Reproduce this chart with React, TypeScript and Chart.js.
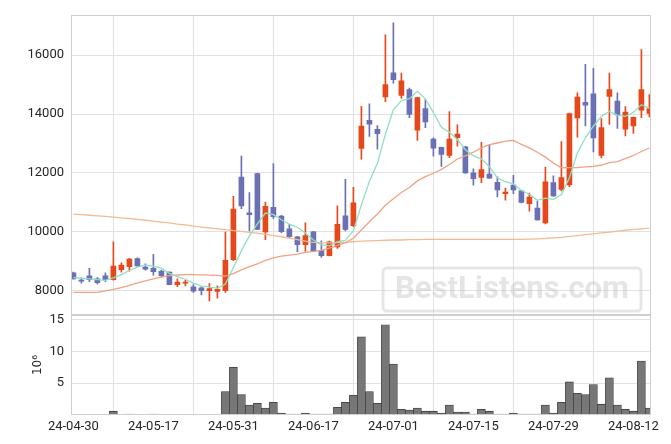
import React, { useEffect, useRef } from 'react';
import { Chart, registerables } from 'chart.js';

Chart.register(...registerables);

const dates = [
  '24-04-30', '24-05-02', '24-05-03', '24-05-07', '24-05-08', '24-05-09', '24-05-10', '24-05-13', '24-05-14', '24-05-16',
  '24-05-17', '24-05-20', '24-05-21', '24-05-22', '24-05-23', '24-05-24', '24-05-27', '24-05-28', '24-05-29', '24-05-30',
  '24-05-31', '24-06-03', '24-06-04', '24-06-05', '24-06-07', '24-06-10', '24-06-11', '24-06-12', '24-06-13', '24-06-14',
  '24-06-17', '24-06-18', '24-06-19', '24-06-20', '24-06-21', '24-06-24', '24-06-25', '24-06-26', '24-06-27', '24-06-28',
  '24-07-01', '24-07-02', '24-07-03', '24-07-04', '24-07-05', '24-07-08', '24-07-09', '24-07-10', '24-07-11', '24-07-12',
  '24-07-15', '24-07-16', '24-07-17', '24-07-18', '24-07-19', '24-07-22', '24-07-23', '24-07-24', '24-07-25', '24-07-26',
  '24-07-29', '24-07-30', '24-07-31', '24-08-01', '24-08-02', '24-08-05', '24-08-06', '24-08-07', '24-08-08', '24-08-09',
  '24-08-12', '24-08-13', '24-08-14',
];

const opens = [
  8600, 8340, 8500, 8400, 8500, 8370, 8710, 8810, 9090, 8800,
  8760, 8660, 8630, 8200, 8250, 8130, 8090, 8000, 7970, 8000,
  9050, 11860, 10640, 11980, 9990, 10830, 10530, 10100, 9830, 9560,
  10000, 9370, 9190, 9480, 10540, 10210, 12830, 13790, 13480, 14580,
  15400, 14630, 14830, 13450, 14190, 13150, 12870, 12590, 13200, 12890,
  12000, 11850, 11960, 11680, 11290, 11590, 11390, 10950, 10800, 10300,
  11670, 11440, 11590, 13870, 14400, 14690, 12590, 14600, 14440, 13490,
  13600, 14130, 14020,
];

const highs = [
  8630, 8430, 8760, 8440, 8600, 9660, 8940, 9100, 9110, 8910,
  9230, 8700, 8640, 8400, 8350, 8200, 8120, 8240, 8160, 9990,
  11200, 12570, 11330, 11990, 11010, 12320, 10560, 10250, 9840, 10300,
  10010, 9690, 9680, 10880, 11780, 11510, 14260, 14350, 13610, 16690,
  17100, 15390, 14880, 14570, 14490, 13190, 12880, 14080, 13630, 12900,
  12140, 13040, 12950, 11870, 11480, 11920, 11400, 11310, 11030, 12200,
  11900, 13060, 14030, 14720, 15690, 15550, 13850, 15390, 14720, 14250,
  13900, 16190, 14660,
];

const lows = [
  8390, 8250, 8300, 8230, 8300, 8350, 8630, 8660, 8820, 8690,
  8520, 8450, 8190, 8130, 8160, 7940, 7850, 7650, 7740, 7940,
  9020, 10780, 10030, 10070, 9730, 10450, 9970, 9790, 9320, 9330,
  9320, 9130, 9180, 9430, 10030, 10170, 12470, 13240, 12810, 14420,
  15050, 14530, 13880, 13100, 13540, 12570, 12220, 12520, 12910, 11980,
  11580, 11670, 11810, 11180, 11070, 11290, 10980, 10700, 10390, 10270,
  11200, 11390, 11530, 13210, 13600, 12710, 12510, 13650, 13510, 13260,
  13340, 13880, 13900,
];

const closes = [
  8400, 8320, 8370, 8270, 8370, 8830, 8870, 9070, 8840, 8730,
  8640, 8510, 8200, 8290, 8290, 7980, 8000, 8070, 8040, 9030,
  10770, 10880, 10580, 10080, 10860, 10510, 10000, 9830, 9560, 9870,
  9330, 9190, 9660, 10250, 10080, 10980, 13590, 13660, 13330, 15000,
  15170, 15130, 13990, 14560, 13730, 12840, 12630, 13150, 13320, 12000,
  11800, 12110, 11820, 11420, 11350, 11420, 11000, 11180, 10400, 11700,
  11220, 11840, 14020, 14580, 14300, 13190, 13540, 14830, 13970, 14070,
  13890, 14830, 14190,
];

// volume in millions of shares
const volumes = [
  0.02, 0.02, 0.02, 0.02, 0.02, 0.6, 0.02, 0.15, 0.02, 0.02,
  0.15, 0.02, 0.02, 0.02, 0.02, 0.02, 0.02, 0.02, 0.02, 3.7,
  7.5, 3.2, 1.55, 1.85, 1.1, 2.0, 0.3, 0.15, 0.15, 0.3,
  0.15, 0.15, 0.15, 1.2, 2.0, 3.1, 12.3, 3.7, 1.85, 14.2,
  8.0, 0.9, 0.77, 1.1, 0.6, 0.6, 0.3, 1.55, 0.46, 0.46,
  0.15, 0.9, 0.6, 0.15, 0.15, 0.3, 0.15, 0.15, 0.15, 1.55,
  0.3, 2.0, 5.2, 3.4, 3.2, 4.8, 1.7, 5.85, 1.55, 0.9,
  0.6, 8.5, 1.1,
];

const ma5 = [
  8440, 8420, 8400, 8370, 8346, 8432, 8542, 8682, 8796, 8868,
  8830, 8758, 8584, 8474, 8386, 8254, 8152, 8126, 8076, 8224,
  8782, 9358, 9860, 10268, 10634, 10582, 10406, 10256, 10152, 9954,
  9718, 9556, 9522, 9660, 9702, 10032, 10912, 11712, 12328, 13312,
  14150, 14458, 14524, 14770, 14516, 14050, 13550, 13382, 13134, 12788,
  12580, 12476, 12210, 11830, 11700, 11624, 11402, 11274, 11070, 11140,
  11100, 11268, 11836, 12672, 13192, 13586, 13926, 14088, 13966, 13920,
  14060, 14318, 14190,
];

const ma20 = [
  7936, 7936, 7936, 7940, 7990, 8040, 8100, 8180, 8260, 8330,
  8400, 8460, 8510, 8530, 8540, 8540, 8535, 8525, 8515, 8490,
  8575, 8702, 8813, 8904, 9028, 9112, 9168, 9206, 9242, 9300,
  9334, 9368, 9441, 9539, 9628, 9778, 10058, 10338, 10602, 10900,
  11120, 11333, 11504, 11728, 11871, 11988, 12119, 12285, 12473, 12580,
  12703, 12849, 12957, 13016, 13079, 13101, 12972, 12848, 12701, 12536,
  12338, 12174, 12176, 12176, 12205, 12222, 12268, 12352, 12384, 12488,
  12592, 12728, 12847,
];

const maLong = [
  10600, 10580, 10560, 10540, 10520, 10500, 10470, 10450, 10420, 10390,
  10360, 10330, 10300, 10260, 10230, 10190, 10160, 10130, 10100, 10070,
  10040, 10010, 9980, 9950, 9910, 9870, 9830, 9780, 9730, 9680,
  9640, 9620, 9620, 9630, 9640, 9660, 9680, 9690, 9700, 9710,
  9720, 9720, 9730, 9730, 9740, 9740, 9740, 9740, 9740, 9740,
  9740, 9740, 9740, 9740, 9740, 9740, 9740, 9750, 9760, 9770,
  9790, 9810, 9840, 9870, 9900, 9930, 9960, 9990, 10020, 10050,
  10080, 10100, 10120,
];

const priceTicks = [8000, 10000, 12000, 14000, 16000];
const volumeTicks = [5, 10, 15];
const xTickIndexes = [0, 10, 20, 30, 40, 50, 60, 70];

const UP = '#e4481b';
const DOWN = '#6b70b5';
const GRID = '#e2e2e2';
const TEXT = '#262626';

export default function App() {
  const ref = useRef<HTMLCanvasElement>(null);

  useEffect(() => {
    if (!ref.current) return;
    const idx = dates.map((_, i) => i);
    const colors = idx.map((i) => (closes[i] >= opens[i] ? UP : DOWN));

    const panels = {
      id: 'panels',
      afterDatasetsDraw(chart: any) {
        const { ctx, chartArea, scales } = chart;
        ctx.save();
        ctx.strokeStyle = '#cfcfcf';
        ctx.lineWidth = 1;
        for (const id of ['y', 'yv']) {
          const s = scales[id];
          ctx.strokeRect(
            Math.round(chartArea.left) + 0.5,
            Math.round(s.top) + 0.5,
            Math.round(chartArea.right - chartArea.left) - 1,
            Math.round(s.bottom - s.top) - 1,
          );
        }
        // watermark
        const wx = 383, wy = 268, ww = 258, wh = 43;
        ctx.strokeStyle = 'rgba(200,200,200,0.45)';
        ctx.lineWidth = 3;
        ctx.beginPath();
        (ctx as any).roundRect(wx, wy, ww, wh, 4);
        ctx.stroke();
        ctx.fillStyle = 'rgba(190,190,190,0.4)';
        ctx.font = 'bold 31px Roboto';
        ctx.textAlign = 'center';
        ctx.textBaseline = 'middle';
        ctx.fillText('BestListens.com', wx + ww / 2, wy + wh / 2 + 1);
        ctx.restore();
      },
    };

    const tickFont = { family: 'Roboto', size: 13 };

    const chart = new Chart(ref.current, {
      type: 'bar',
      data: {
        datasets: [
          {
            type: 'line',
            label: 'MA5',
            data: idx.map((i) => ({ x: i, y: ma5[i] })),
            borderColor: '#8fdfc3',
            borderWidth: 1.3,
            pointRadius: 0,
            yAxisID: 'y',
            order: 0,
          } as any,
          {
            type: 'line',
            label: 'MA20',
            data: idx.map((i) => ({ x: i, y: ma20[i] })),
            borderColor: '#f1a285',
            borderWidth: 1.3,
            pointRadius: 0,
            yAxisID: 'y',
            order: 0,
          },
          {
            type: 'line',
            label: 'MA long',
            data: idx.map((i) => ({ x: i, y: maLong[i] })),
            borderColor: '#f3bb92',
            borderWidth: 1.3,
            pointRadius: 0,
            yAxisID: 'y',
            order: 0,
          },
          {
            type: 'bar',
            label: 'body',
            data: idx.map((i) => ({ x: i, y: [opens[i], closes[i]] })),
            backgroundColor: colors,
            barThickness: 5,
            minBarLength: 1,
            grouped: false,
            yAxisID: 'y',
            order: 1,
          },
          {
            type: 'bar',
            label: 'wick',
            data: idx.map((i) => ({ x: i, y: [lows[i], highs[i]] })),
            backgroundColor: colors,
            barThickness: 1,
            grouped: false,
            yAxisID: 'y',
            order: 2,
          },
          {
            type: 'bar',
            label: 'volume',
            data: idx.map((i) => ({ x: i, y: volumes[i] })),
            backgroundColor: '#777777',
            borderColor: '#3a3a3a',
            borderWidth: 0.8,
            barPercentage: 1,
            categoryPercentage: 1,
            grouped: false,
            yAxisID: 'yv',
            order: 3,
          },
        ] as any,
      },
      options: {
        animation: false,
        responsive: false,
        events: [],
        layout: { padding: { top: 9, right: 20, left: 0, bottom: 0 } },
        plugins: { legend: { display: false }, tooltip: { enabled: false } },
        scales: {
          x: {
            type: 'linear',
            min: -0.3,
            max: 72.2,
            offset: false,
            afterBuildTicks: (s: any) => {
              s.ticks = xTickIndexes.map((v) => ({ value: v }));
            },
            afterFit: (s: any) => {
              s.height = 29;
            },
            ticks: {
              callback: (v: any) => dates[v] ?? '',
              font: tickFont,
              color: TEXT,
              padding: 4,
              maxRotation: 0,
              autoSkip: false,
            },
            grid: { color: GRID, drawTicks: false },
            border: { display: false },
          },
          yv: {
            type: 'linear',
            position: 'left',
            stack: 'panels',
            stackWeight: 1,
            min: 0,
            max: 15.74,
            afterBuildTicks: (s: any) => {
              s.ticks = volumeTicks.map((v) => ({ value: v }));
            },
            afterFit: (s: any) => {
              s.width = 71;
            },
            ticks: { font: tickFont, color: TEXT, padding: 7, callback: (v: any) => String(v) },
            grid: { color: GRID, drawTicks: false },
            border: { display: false },
            title: {
              display: true,
              text: '10⁶',
              font: { family: 'DejaVu Sans', size: 12 },
              color: TEXT,
              padding: { top: 31, bottom: 0 },
            },
          },
          y: {
            type: 'linear',
            position: 'left',
            stack: 'panels',
            stackWeight: 3,
            min: 7172,
            max: 17373,
            afterBuildTicks: (s: any) => {
              s.ticks = priceTicks.map((v) => ({ value: v }));
            },
            afterFit: (s: any) => {
              s.width = 71;
            },
            ticks: { font: tickFont, color: TEXT, padding: 7, callback: (v: any) => String(v) },
            grid: { color: GRID, drawTicks: false },
            border: { display: false },
          },
        },
      } as any,
      plugins: [panels],
    });

    return () => chart.destroy();
  }, []);

  return (
    <div style={{ position: 'absolute', left: 0, top: 0, width: 671, height: 444, background: '#ffffff' }}>
      <canvas ref={ref} width={671} height={444} style={{ display: 'block' }} />
    </div>
  );
}
